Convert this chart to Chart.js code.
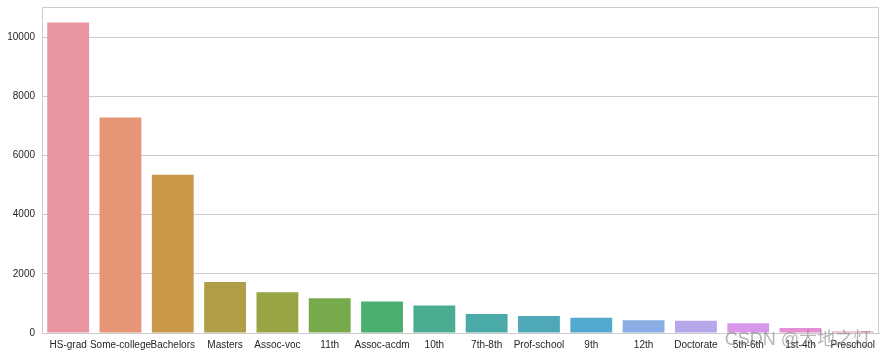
<!DOCTYPE html>
<html>
<head>
<meta charset="utf-8">
<script src="https://cdn.jsdelivr.net/npm/chart.js@4/dist/chart.umd.min.js"></script>
<style>
  html, body { margin: 0; padding: 0; background: #ffffff; }
  #wrap { width: 886px; height: 356px; position: relative; }
</style>
</head>
<body>
<div id="wrap"><canvas id="c" width="886" height="356"></canvas></div>
<script>
const categories = ["HS-grad", "Some-college", "Bachelors", "Masters", "Assoc-voc", "11th", "Assoc-acdm", "10th", "7th-8th", "Prof-school", "9th", "12th", "Doctorate", "5th-6th", "1st-4th", "Preschool"];
const counts = [10501, 7291, 5355, 1723, 1382, 1175, 1067, 933, 646, 576, 514, 433, 413, 333, 168, 51];
const yTicks = [0, 2000, 4000, 6000, 8000, 10000];
const barColors = ["#e8959f", "#e69576", "#cb984a", "#af9e47", "#99a444", "#76aa4a", "#4aae6f", "#4aad92", "#4aaaa7", "#4ea8b8", "#53aad0", "#88aee5", "#b6a6ea", "#d797ea", "#e78fd6", "#e893bb"];
const watermark = "CSDN @大地之灯";

const frame = {
  id: 'frame',
  afterDraw(chart) {
    const {ctx, chartArea: a} = chart;
    ctx.save();
    ctx.strokeStyle = '#cccccc';
    ctx.lineWidth = 1;
    ctx.strokeRect(Math.round(a.left) + 0.5, Math.round(a.top) + 0.5, Math.round(a.right - a.left) - 1, Math.round(a.bottom - a.top));
    ctx.font = '18px "Liberation Sans", "Noto Sans CJK SC", sans-serif';
    ctx.fillStyle = 'rgba(120,120,120,0.55)';
    ctx.textBaseline = 'middle';
    ctx.textAlign = 'right';
    ctx.fillText(watermark, 871, 340);
    ctx.restore();
  }
};

new Chart(document.getElementById('c'), {
  type: 'bar',
  data: {
    labels: categories,
    datasets: [{
      data: counts,
      backgroundColor: barColors,
      borderWidth: 0,
      barPercentage: 0.8,
      categoryPercentage: 1.0
    }]
  },
  options: {
    responsive: false,
    animation: false,
    devicePixelRatio: 1,
    layout: { padding: { top: 7, right: 7, left: 0, bottom: 0 } },
    plugins: { legend: { display: false }, tooltip: { enabled: false } },
    scales: {
      x: {
        grid: { display: false, drawTicks: false },
        border: { display: true, color: '#cccccc' },
        ticks: {
          color: '#262626',
          font: { family: '"Liberation Sans", Arial, sans-serif', size: 10 },
          padding: 6,
          maxRotation: 0,
          autoSkip: false
        },
        afterFit(scale) { scale.height = 23; scale.paddingLeft = 0; scale.paddingRight = 0; }
      },
      y: {
        min: 0,
        max: 11026,
        afterBuildTicks(scale) { scale.ticks = yTicks.map(v => ({ value: v })); },
        grid: { color: '#cccccc', drawTicks: false, lineWidth: 1 },
        border: { display: true, color: '#cccccc' },
        ticks: {
          color: '#262626',
          font: { family: '"Liberation Sans", Arial, sans-serif', size: 10 },
          padding: 7,
          callback: (v) => String(v)
        },
        afterFit(scale) { scale.width = 42; scale.paddingTop = 0; scale.paddingBottom = 0; }
      }
    }
  },
  plugins: [frame]
});
</script>
</body>
</html>
